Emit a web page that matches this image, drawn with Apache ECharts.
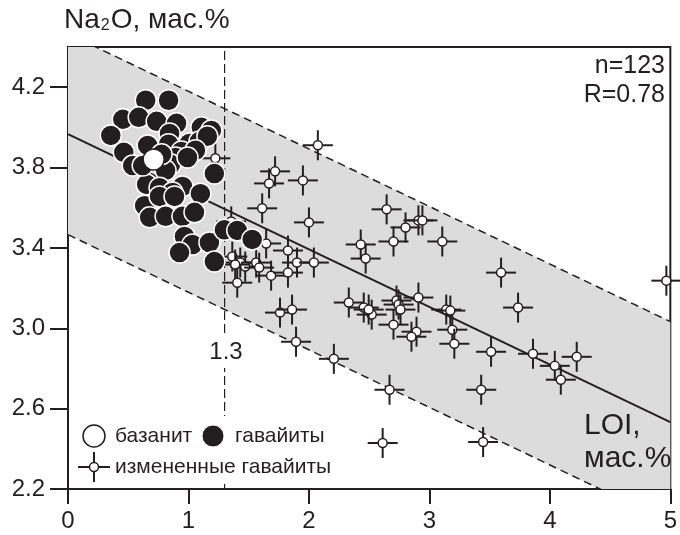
<!DOCTYPE html>
<html>
<head>
<meta charset="utf-8">
<script src="https://cdn.jsdelivr.net/npm/echarts@6/dist/echarts.min.js"></script>
<style>
  html, body { margin: 0; padding: 0; background: #fff; }
  #chart { width: 680px; height: 535px; }
</style>
</head>
<body>
<div id="chart"></div>
<script>
// ticks
const ticksX = [0, 1, 2, 3, 4, 5];
const ticksY = [2.2, 2.6, 3.0, 3.4, 3.8, 4.2];

// regression line and its +-0.5 corridor
const fitX = [0, 5];
const fitY = [3.966, 2.533];
const bandHalf = 0.5;
const lossLimit = 1.3; // LOI boundary

// базанит
const basanite = [[0.711, 3.84]];

// гавайиты
const hawaiites = [
  [0.645, 4.135], [0.835, 4.135], [0.455, 4.04], [0.587, 4.05], [0.736, 4.03],
  [0.901, 4.02], [0.355, 3.96], [1.107, 4.0], [1.19, 3.985], [0.661, 3.91],
  [0.463, 3.876], [0.537, 3.81], [0.843, 3.97], [0.835, 3.916], [1.008, 3.92],
  [1.091, 3.93], [1.157, 3.956], [0.942, 3.88], [0.893, 3.85], [0.851, 3.816],
  [0.81, 3.786], [1.215, 3.77], [0.653, 3.716], [0.76, 3.7], [0.95, 3.706],
  [0.868, 3.676], [1.099, 3.67], [0.636, 3.61], [0.76, 3.656], [0.678, 3.552],
  [0.81, 3.557], [0.95, 3.557], [1.05, 3.577], [0.967, 3.457], [1.033, 3.417],
  [0.926, 3.377], [1.174, 3.427], [1.215, 3.332], [1.298, 3.49], [1.405, 3.487],
  [1.529, 3.442], [0.62, 3.81], [0.884, 3.656], [0.777, 3.866], [1.058, 3.886],
  [0.992, 3.85]
];

// измененные гавайиты
const altered = [
  [2.074, 3.911], [1.719, 3.781], [1.669, 3.721], [1.95, 3.736], [1.612, 3.597],
  [2.0, 3.527], [1.223, 3.846], [1.355, 3.532], [1.645, 3.422], [1.826, 3.387],
  [1.901, 3.327], [2.041, 3.327], [1.364, 3.357], [1.43, 3.327], [1.471, 3.307],
  [1.562, 3.327], [1.587, 3.302], [1.686, 3.262], [1.826, 3.277], [2.43, 3.417],
  [2.471, 3.347], [1.388, 3.317], [1.405, 3.227], [1.76, 3.078], [1.86, 3.093],
  [1.893, 2.933], [2.207, 2.848], [2.331, 3.128], [2.455, 3.103], [2.645, 3.592],
  [2.909, 3.537], [2.942, 3.537], [2.802, 3.502], [2.702, 3.432], [3.107, 3.432],
  [3.595, 3.277], [2.909, 3.153], [2.727, 3.138], [2.744, 3.118], [2.76, 3.093],
  [2.521, 3.068], [2.702, 3.018], [3.14, 3.093], [3.174, 3.088], [3.736, 3.103],
  [3.19, 2.993], [2.893, 2.983], [2.851, 2.958], [3.207, 2.923], [3.512, 2.883],
  [2.669, 2.694], [3.43, 2.694], [2.612, 2.429], [3.446, 2.434], [3.86, 2.873],
  [4.041, 2.813], [4.091, 2.744], [4.223, 2.858], [4.967, 3.237], [2.496, 3.093]
];

const ink = '#231f20';
const font = '"Liberation Sans", Arial, sans-serif';

const upper = fitX.map((x, i) => [x, fitY[i] + bandHalf]);
const lower = fitX.map((x, i) => [x, fitY[i] - bandHalf]);

const myChart = echarts.init(document.getElementById('chart'));

// крестик с кружком
const crossItem = (api) => {
  const p = api.coord([api.value(0), api.value(1)]);
  return {
    type: 'group',
    children: [
      { type: 'line', shape: { x1: p[0] - 15, y1: p[1], x2: p[0] + 15, y2: p[1] }, style: { stroke: ink, lineWidth: 2 } },
      { type: 'line', shape: { x1: p[0], y1: p[1] - 15, x2: p[0], y2: p[1] + 15 }, style: { stroke: ink, lineWidth: 2 } },
      { type: 'circle', shape: { cx: p[0], cy: p[1], r: 4.5 }, style: { fill: '#fff', stroke: ink, lineWidth: 1.5 } }
    ]
  };
};

const option = {
  backgroundColor: '#fff',
  animation: false,
  textStyle: { fontFamily: font, color: ink },
  grid: {
    left: 68, right: 7, top: 47, bottom: 46,
    show: true, borderColor: ink, borderWidth: 2, backgroundColor: 'transparent'
  },
  xAxis: {
    type: 'value', min: 0, max: 5, interval: 1,
    axisLine: { show: true, onZero: false, lineStyle: { color: ink, width: 2 } },
    axisTick: { show: true, length: 15, lineStyle: { color: ink, width: 2 }, customValues: ticksX },
    axisLabel: { color: ink, fontSize: 24, fontFamily: font, margin: 20, customValues: ticksX },
    splitLine: { show: false }
  },
  yAxis: {
    type: 'value', min: 2.2, max: 4.4,
    axisLine: { show: true, onZero: false, lineStyle: { color: ink, width: 2 } },
    axisTick: { show: true, length: 18, lineStyle: { color: ink, width: 2 }, customValues: ticksY },
    axisLabel: { color: ink, fontSize: 24, fontFamily: font, margin: 23, customValues: ticksY, formatter: v => v.toFixed(1) },
    splitLine: { show: false }
  },
  series: [
    {
      // серый коридор
      type: 'custom',
      clip: true,
      silent: true,
      z: 1,
      data: [0],
      renderItem: (params, api) => {
        const pts = [upper[0], upper[1], lower[1], lower[0]].map(d => api.coord(d));
        return { type: 'polygon', shape: { points: pts }, style: { fill: '#dcdcdc' } };
      }
    },
    {
      type: 'line', data: upper, symbol: 'none', clip: true, z: 2, silent: true,
      lineStyle: { color: ink, width: 1.5, type: [8, 5] }
    },
    {
      type: 'line', data: lower, symbol: 'none', clip: true, z: 2, silent: true,
      lineStyle: { color: ink, width: 1.5, type: [8, 5] }
    },
    {
      type: 'line', data: fitX.map((x, i) => [x, fitY[i]]), symbol: 'none', clip: true, z: 2, silent: true,
      lineStyle: { color: ink, width: 2 }
    },
    {
      type: 'line', data: [[lossLimit, 2.2], [lossLimit, 4.4]], symbol: 'none', z: 2, silent: true,
      lineStyle: { color: ink, width: 1.2, type: [9, 4] }
    },
    {
      name: 'измененные гавайиты',
      type: 'custom',
      z: 3,
      data: altered,
      renderItem: (params, api) => crossItem(api)
    },
    {
      name: 'гавайиты',
      type: 'scatter',
      z: 4,
      symbolSize: 21,
      data: hawaiites,
      itemStyle: { color: ink, borderColor: '#fff', borderWidth: 1.5, opacity: 1 }
    },
    {
      name: 'базанит',
      type: 'scatter',
      z: 5,
      symbolSize: 21,
      data: basanite,
      itemStyle: { color: '#fff', borderColor: ink, borderWidth: 1.5, opacity: 1 }
    }
  ],
  graphic: [
    {
      type: 'text', left: 64, top: 6, z: 10,
      style: {
        text: '{n|Na}{s|2}{n|O, мас.%}',
        rich: {
          n: { fontSize: 28, fontFamily: font, fill: ink, lineHeight: 32, verticalAlign: 'bottom' },
          s: { fontSize: 16, fontFamily: font, fill: ink, lineHeight: 32, verticalAlign: 'bottom', padding: [0, 1, 0, 1] }
        }
      }
    },
    { type: 'text', x: 665, y: 66, z: 10, style: { text: 'n=123', fontSize: 25, fontFamily: font, fill: ink, textAlign: 'right', textVerticalAlign: 'middle' } },
    { type: 'text', x: 665, y: 95, z: 10, style: { text: 'R=0.78', fontSize: 25, fontFamily: font, fill: ink, textAlign: 'right', textVerticalAlign: 'middle' } },
    // подпись 1.3 на белой подложке
    { type: 'rect', shape: { x: 208, y: 336, width: 38, height: 32 }, z: 9, style: { fill: '#fff' } },
    { type: 'text', x: 226, y: 352, z: 10, style: { text: '1.3', fontSize: 24, fontFamily: font, fill: ink, textAlign: 'center', textVerticalAlign: 'middle' } },
    { type: 'text', x: 584, y: 426, z: 10, style: { text: 'LOI,', fontSize: 30, fontFamily: font, fill: ink, textVerticalAlign: 'middle' } },
    { type: 'text', x: 584, y: 459, z: 10, style: { text: 'мас.%', fontSize: 30, fontFamily: font, fill: ink, textVerticalAlign: 'middle' } },
    // легенда
    { type: 'rect', shape: { x: 78, y: 416, width: 260, height: 68 }, z: 9, style: { fill: '#fff' } },
    { type: 'circle', shape: { cx: 94, cy: 436, r: 11 }, z: 10, style: { fill: '#fff', stroke: ink, lineWidth: 1.5 } },
    { type: 'text', x: 115, y: 436, z: 10, style: { text: 'базанит', fontSize: 21, fontFamily: font, fill: ink, textVerticalAlign: 'middle' } },
    { type: 'circle', shape: { cx: 213, cy: 436, r: 11 }, z: 10, style: { fill: ink, stroke: '#fff', lineWidth: 1 } },
    { type: 'text', x: 235, y: 436, z: 10, style: { text: 'гавайиты', fontSize: 21, fontFamily: font, fill: ink, textVerticalAlign: 'middle' } },
    { type: 'line', shape: { x1: 78, y1: 467, x2: 110, y2: 467 }, z: 10, style: { stroke: ink, lineWidth: 2 } },
    { type: 'line', shape: { x1: 94, y1: 452, x2: 94, y2: 482 }, z: 10, style: { stroke: ink, lineWidth: 2 } },
    { type: 'circle', shape: { cx: 94, cy: 467, r: 4.5 }, z: 11, style: { fill: '#fff', stroke: ink, lineWidth: 1.5 } },
    { type: 'text', x: 115, y: 467, z: 10, style: { text: 'измененные гавайиты', fontSize: 21, fontFamily: font, fill: ink, textVerticalAlign: 'middle' } }
  ]
};

myChart.setOption(option);
window.addEventListener('resize', () => myChart.resize());
</script>
</body>
</html>
